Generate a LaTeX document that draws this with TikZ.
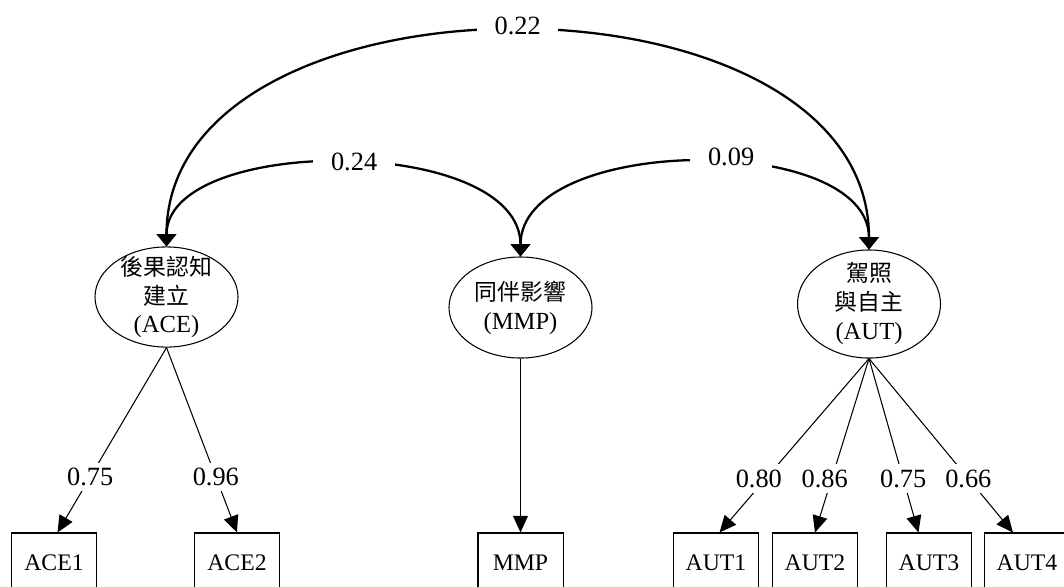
\documentclass[tikz,border=0pt]{standalone}
\usepackage{fontspec}
\setmainfont{Liberation Serif}
\newfontfamily\cjk{Noto Sans CJK TC}
\newcommand{\zh}[1]{{\cjk\fontsize{13}{16.5}\selectfont #1}}
\usetikzlibrary{arrows.meta,shapes.geometric}
\tikzset{
  latent/.style={
    draw, ellipse, inner sep=0pt, line width=0.6pt,
    minimum width=81.4pt, minimum height=57pt
  },
  lattext/.style={
    align=center, inner sep=0pt, font=\fontsize{14}{16.5}\selectfont
  },
  obs/.style={
    draw, rectangle, inner sep=0pt, line width=0.6pt,
    font=\fontsize{13.5}{16}\selectfont,
    minimum width=48.4pt, minimum height=33.6pt
  },
  load/.style={-{Triangle[width=8.5pt,length=9.5pt]}, line width=0.6pt},
  cov/.style={
    {Triangle[width=11pt,length=7pt]}-{Triangle[width=11pt,length=7pt]},
    line width=1.3pt
  },
  est/.style={fill=white, font=\fontsize{15}{18}\selectfont, inner xsep=4pt, inner ysep=3pt},
  corr/.style={fill=white, font=\fontsize{15}{18}\selectfont, inner xsep=10pt, inner ysep=3pt},
}

\begin{document}
\begin{tikzpicture}[x=0.02cm, y=-0.02cm]
  \useasboundingbox (0,0) rectangle (1064,586);
  \clip (0,0) rectangle (1064,586);

  \node[latent, label={[lattext]center:{\zh{後果認知}\\\zh{建立}\\(ACE)}}] (ace) at (166.5,297) {};
  \node[latent, minimum height=57.5pt, label={[lattext]center:{\zh{同伴影響}\\(MMP)}}] (mmp) at (520.5,307.5) {};
  \node[latent, minimum height=61.5pt, label={[lattext]center:{\zh{駕照}\\\zh{與自主}\\(AUT)}}] (aut) at (869,304) {};

  \node[obs] (ace1) at (54,562.5) {ACE1};
  \node[obs] (ace2) at (237,562.5) {ACE2};
  \node[obs] (mmpi) at (520.5,562.5) {MMP};
  \node[obs] (aut1) at (716,562.5) {AUT1};
  \node[obs] (aut2) at (815,562.5) {AUT2};
  \node[obs] (aut3) at (929,562.5) {AUT3};
  \node[obs] (aut4) at (1027,562.5) {AUT4};

  \draw[load] (ace.south) -- ([xshift=2pt]ace1.north) node[est, pos=0.7] {0.75};
  \draw[load] (ace.south) -- (ace2.north) node[est, pos=0.7] {0.96};
  \draw[load] (mmp.south) -- (mmpi.north);
  \draw[load] (aut.south) -- ([xshift=2pt]aut1.north) node[est, pos=0.69, xshift=-4pt] {0.80};
  \draw[load] (aut.south) -- (aut2.north) node[est, pos=0.69, xshift=-4pt] {0.86};
  \draw[load] (aut.south) -- ([xshift=-6pt]aut3.north) node[est, pos=0.69] {0.75};
  \draw[load] (aut.south) -- ([xshift=-8pt]aut4.north) node[est, pos=0.69] {0.66};

  \draw[cov] (ace.north) .. controls +(0,-287) and +(0,-290) .. (aut.north) node[corr, pos=0.5, yshift=3pt] {0.22};
  \draw[cov] (ace.north) .. controls +(0,-112) and +(0,-122) .. (mmp.north) node[corr, pos=0.52, yshift=1pt] {0.24};
  \draw[cov] (mmp.north) .. controls +(0,-122) and +(0,-118) .. (aut.north) node[corr, pos=0.57, yshift=4pt] {0.09};
\end{tikzpicture}
\end{document}
